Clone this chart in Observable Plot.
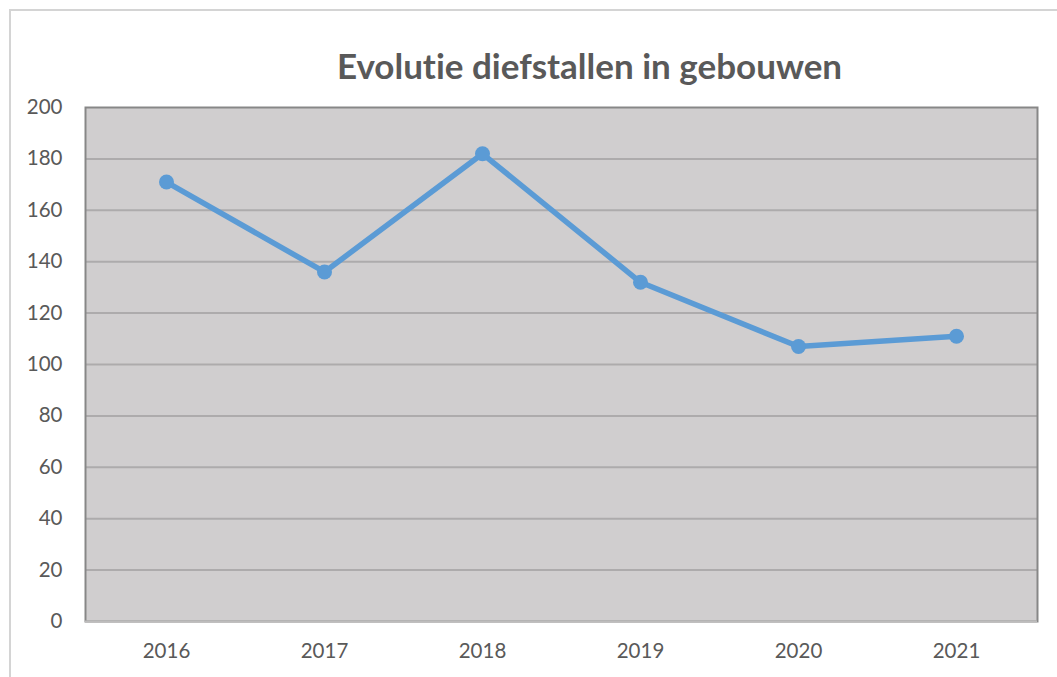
<!DOCTYPE html>
<html>
<head>
<meta charset="utf-8">
<script src="https://cdn.jsdelivr.net/npm/d3@7"></script>
<script src="https://cdn.jsdelivr.net/npm/@observablehq/plot@0.6"></script>
<style>
  html, body { margin: 0; padding: 0; background: #fff; }
  #wrap { position: relative; width: 1057px; height: 677px; overflow: hidden; }
  #border { position: absolute; left: 9px; top: 9px; width: 1060px; height: 700px;
            border-left: 2px solid #d4d4d4; border-top: 2px solid #d4d4d4; box-sizing: border-box; }
  #chart { position: absolute; left: 0; top: 0; }
  svg text { font-variant-ligatures: none; font-feature-settings: "liga" 0, "clig" 0; }
</style>
</head>
<body>
<div id="wrap"><div id="border"></div><div id="chart"></div></div>
<script>
const title = "Evolutie diefstallen in gebouwen";
const years = ["2016", "2017", "2018", "2019", "2020", "2021"];
const values = [171, 136, 182, 132, 107, 111];
const yTicks = [0, 20, 40, 60, 80, 100, 120, 140, 160, 180, 200];

const data = years.map((y, i) => ({year: y, value: values[i]}));
const textColor = "#595959";

const chart = Plot.plot({
  width: 1057,
  height: 677,
  marginLeft: 85,
  marginRight: 20,
  marginTop: 107,
  marginBottom: 56,
  style: {fontFamily: "Lato, 'Open Sans', sans-serif", background: "transparent", overflow: "visible"},
  x: {type: "point", domain: years, padding: 0.5},
  y: {domain: [0, 200]},
  marks: [
    Plot.frame({fill: "#d0cecf"}),
    Plot.ruleY(yTicks.filter(d => d > 0 && d < 200), {stroke: "#adabac", strokeWidth: 2}),
    Plot.frame({stroke: "#878787", strokeWidth: 2}),
    Plot.ruleY([0], {stroke: "#bdbcbc", strokeWidth: 2}),
    Plot.axisY({ticks: yTicks, tickSize: 0, tickPadding: 23, fontSize: 20.5, fill: textColor, label: null}),
    Plot.axisX({tickSize: 0, tickPadding: 22, fontSize: 20.5, fill: textColor, label: null}),
    Plot.line(data, {x: "year", y: "value", stroke: "#5b9bd5", strokeWidth: 5.5, strokeLinejoin: "round"}),
    Plot.dot(data, {x: "year", y: "value", r: 7.5, fill: "#5b9bd5", stroke: "none"}),
    Plot.text([title], {frameAnchor: "top", dx: 28, dy: -53, fontSize: 35, fontWeight: "bold", fill: textColor})
  ]
});
document.getElementById("chart").appendChild(chart);
</script>
</body>
</html>
